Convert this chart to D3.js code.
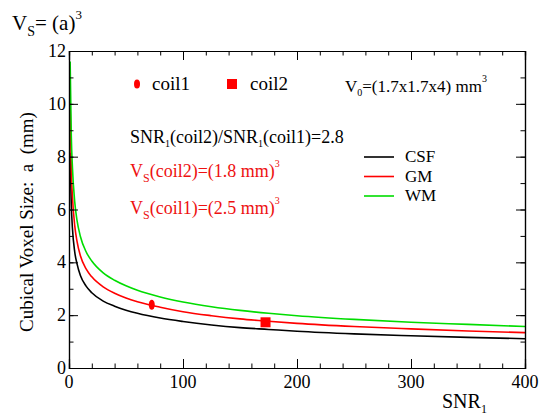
<!DOCTYPE html>
<html><head><meta charset="utf-8">
<script src="https://cdn.jsdelivr.net/npm/d3@7"></script>
<style>body{margin:0;background:#fff}svg{display:block}</style>
</head><body><svg id="c" width="547" height="420" font-family="'Liberation Serif', 'Times New Roman', 'DejaVu Serif', serif" style="font-family:'Liberation Serif','Times New Roman','DejaVu Serif',serif"></svg>
<script>
const snr = [1, 2, 3, 5, 7, 10, 15, 20, 30, 40, 50, 60, 80, 100, 125, 150, 175, 200, 250, 300, 350, 400];
const csf = [8.15, 6.20, 5.30, 4.40, 3.95, 3.50, 3.10, 2.85, 2.53, 2.34, 2.19, 2.07, 1.89, 1.76, 1.63, 1.53, 1.46, 1.39, 1.29, 1.22, 1.16, 1.11];
const gm  = [9.90, 7.50, 6.50, 5.40, 4.80, 4.25, 3.75, 3.45, 3.07, 2.83, 2.65, 2.51, 2.30, 2.13, 1.98, 1.86, 1.77, 1.69, 1.57, 1.48, 1.40, 1.34];
const wm  = [11.6, 8.80, 7.60, 6.30, 5.60, 4.98, 4.40, 4.05, 3.60, 3.32, 3.11, 2.94, 2.69, 2.50, 2.32, 2.18, 2.07, 1.98, 1.84, 1.73, 1.65, 1.57];
const seriesNames = ["CSF", "GM", "WM"];
const seriesColors = ["#000000", "#ff0000", "#00dd00"];
const coilNames = ["coil1", "coil2"];
const coilSNR = [72.6, 172.4];
const coilSize = [2.39, 1.73];
const xTicks = [0, 100, 200, 300, 400];
const yTicks = [0, 2, 4, 6, 8, 10, 12];

const FF = "'Liberation Serif', 'Times New Roman', 'DejaVu Serif', serif";
const svg = d3.select("#c");
const L = 69, R = 525, T = 51, B = 368;
const x = d3.scaleLinear().domain([0, 400]).range([L, R]);
const y = d3.scaleLinear().domain([0, 12]).range([B, T]);

// curves
const data = [csf, gm, wm];
const line = d3.line().x(d => x(d[0])).y(d => y(d[1])).curve(d3.curveMonotoneX);
data.forEach((vals, i) => {
  svg.append("path").datum(snr.map((s, j) => [s, vals[j]]))
    .attr("d", line).attr("fill", "none").attr("stroke", seriesColors[i]).attr("stroke-width", 1.6);
});

// axes
function axisG(axis, tr) { return svg.append("g").attr("transform", tr).call(axis); }
const fmt = () => "";
const style = g => { g.select(".domain").attr("stroke", "#000"); g.selectAll("line").attr("stroke", "#000"); };
axisG(d3.axisBottom(x).tickValues(xTicks).tickSize(-9).tickFormat(fmt), `translate(0,${B})`).call(style);
axisG(d3.axisBottom(x).tickValues(d3.range(0, 401, 20)).tickSize(-4.5).tickFormat(fmt), `translate(0,${B})`).call(style);
axisG(d3.axisTop(x).tickValues(xTicks).tickSize(-9).tickFormat(fmt), `translate(0,${T})`).call(style);
axisG(d3.axisTop(x).tickValues(d3.range(0, 401, 20)).tickSize(-4.5).tickFormat(fmt), `translate(0,${T})`).call(style);
axisG(d3.axisLeft(y).tickValues(yTicks).tickSize(-9).tickFormat(fmt), `translate(${L},0)`).call(style);
axisG(d3.axisLeft(y).tickValues(d3.range(0, 13, 1)).tickSize(-4.5).tickFormat(fmt), `translate(${L},0)`).call(style);
axisG(d3.axisRight(y).tickValues(yTicks).tickSize(-9).tickFormat(fmt), `translate(${R},0)`).call(style);
axisG(d3.axisRight(y).tickValues(d3.range(0, 13, 1)).tickSize(-4.5).tickFormat(fmt), `translate(${R},0)`).call(style);
svg.selectAll("path.domain").attr("stroke-width", 1.2);

// tick labels
svg.append("g").selectAll("text").data(xTicks).join("text")
  .attr("x", d => x(d)).attr("y", 388).attr("text-anchor", "middle")
  .attr("font-size", 18).text(d => d);
svg.append("g").selectAll("text").data(yTicks).join("text")
  .attr("x", L - 3).attr("y", d => y(d) + 6).attr("text-anchor", "end")
  .attr("font-size", 18).text(d => d);

// axis titles
svg.append("text").attr("transform", `translate(33,222) rotate(-90)`)
  .attr("text-anchor", "middle").attr("font-size", 19).attr("xml:space", "preserve")
  .text("Cubical Voxel Size:  a  (mm)");
const xt = svg.append("text").attr("x", 442).attr("y", 408).attr("font-size", 20);
xt.append("tspan").text("SNR");
xt.append("tspan").attr("font-size", 12).attr("dy", 5).text("1");

// title
const tt = svg.append("text").attr("x", 12).attr("y", 30).attr("font-size", 21);
tt.append("tspan").text("V");
tt.append("tspan").attr("font-size", 14).attr("dy", 6).text("S");
tt.append("tspan").attr("dy", -6).text("= (a)");
tt.append("tspan").attr("font-size", 13).attr("dy", -11).text("3");

// coil markers
svg.append("ellipse").attr("cx", x(coilSNR[0])).attr("cy", y(coilSize[0])).attr("rx", 3).attr("ry", 5).attr("fill", "#ff0000");
svg.append("rect").attr("x", x(coilSNR[1]) - 5).attr("y", y(coilSize[1]) - 5).attr("width", 10).attr("height", 10).attr("fill", "#ff0000");

// coil legend
svg.append("ellipse").attr("cx", 137).attr("cy", 84).attr("rx", 3).attr("ry", 4.5).attr("fill", "#ff0000");
svg.append("text").attr("x", 152).attr("y", 90).attr("font-size", 19).text(coilNames[0]);
svg.append("rect").attr("x", 227).attr("y", 79).attr("width", 10).attr("height", 10).attr("fill", "#ff0000");
svg.append("text").attr("x", 250).attr("y", 90).attr("font-size", 19).text(coilNames[1]);

// V0 text
const v0 = svg.append("text").attr("x", 345).attr("y", 92).attr("font-size", 17);
v0.append("tspan").text("V");
v0.append("tspan").attr("font-size", 10).attr("dy", 4).text("0");
v0.append("tspan").attr("dy", -4).text("=(1.7x1.7x4) mm");
v0.append("tspan").attr("font-size", 10).attr("dy", -10).text("3");

// ratio text
const rt = svg.append("text").attr("x", 130).attr("y", 143).attr("font-size", 18);
rt.append("tspan").text("SNR");
rt.append("tspan").attr("font-size", 10).attr("dy", 4).text("1");
rt.append("tspan").attr("dy", -4).text("(coil2)/SNR");
rt.append("tspan").attr("font-size", 10).attr("dy", 4).text("1");
rt.append("tspan").attr("dy", -4).text("(coil1)=2.8");

function vsText(yPos, label) {
  const t = svg.append("text").attr("x", 130).attr("y", yPos).attr("font-size", 18).attr("fill", "#ee1111");
  t.append("tspan").text("V");
  t.append("tspan").attr("font-size", 12).attr("dy", 5).text("S");
  t.append("tspan").attr("dy", -5).text(label);
  t.append("tspan").attr("font-size", 10).attr("dy", -10).text("3");
}
vsText(177, "(coil2)=(1.8 mm)");
vsText(214, "(coil1)=(2.5 mm)");

// series legend
seriesNames.forEach((n, i) => {
  const yy = 157 + i * 19.5;
  svg.append("line").attr("x1", 364).attr("x2", 394).attr("y1", yy).attr("y2", yy)
    .attr("stroke", seriesColors[i]).attr("stroke-width", 1.6);
  svg.append("text").attr("x", 405).attr("y", yy + 5).attr("font-size", 17).text(n);
});
svg.selectAll("text").attr("font-family", FF);
</script></body></html>
